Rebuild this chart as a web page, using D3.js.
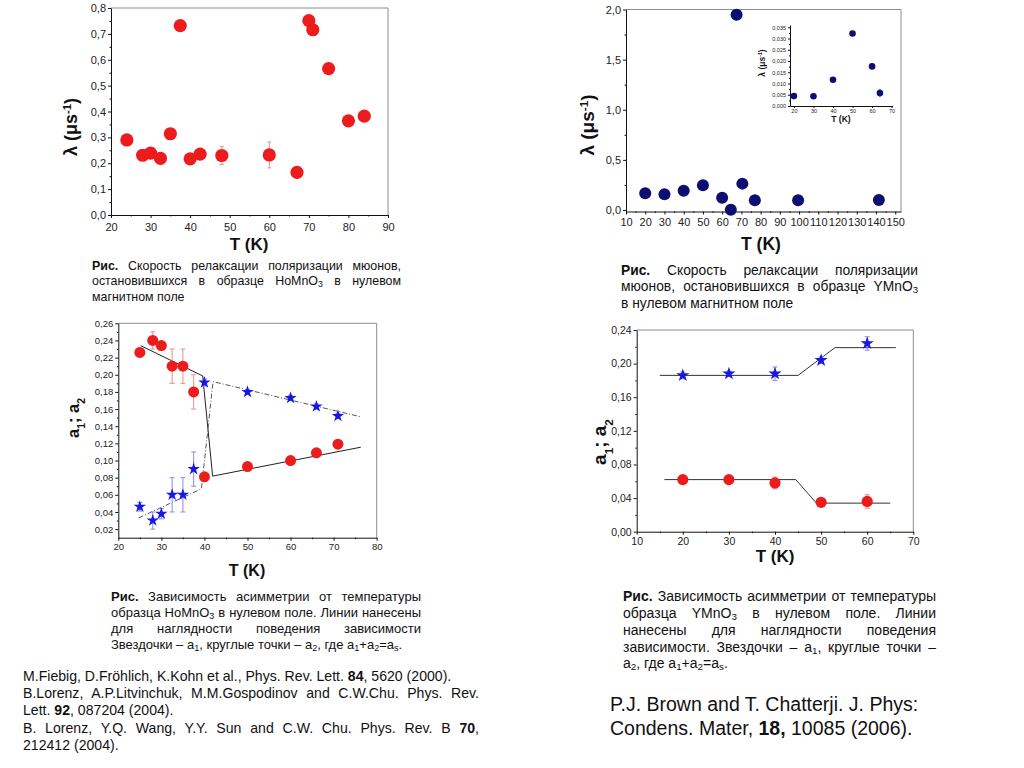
<!DOCTYPE html>
<html><head><meta charset="utf-8">
<script src="https://cdn.jsdelivr.net/npm/d3@7"></script>
<style>
body{margin:0;background:#fff;width:1024px;height:768px;overflow:hidden;position:relative;font-family:"Liberation Sans",Arial,sans-serif;}
svg{position:absolute;left:0;top:0}
.ln{position:absolute;color:#111;white-space:nowrap;}
sub{font-size:70%;vertical-align:-0.25em;line-height:0}
</style></head><body>
<svg id="chart" width="1024" height="768"></svg>
<script>
// ---------------- DATA ----------------
// HoMnO3 relaxation rate (top-left)
const hoT        = [24, 28, 30, 32.5, 35, 37.5, 40, 42.5, 48, 60, 67, 70, 71, 75, 80, 84];
const hoLambda   = [0.29, 0.231, 0.239, 0.219, 0.314, 0.732, 0.217, 0.235, 0.230, 0.232, 0.165, 0.751, 0.716, 0.566, 0.364, 0.382];
const hoLambdaErr= [0, 0, 0, 0, 0, 0, 0, 0, 0.035, 0.05, 0, 0, 0, 0, 0, 0];
const hoXTicks = [20, 30, 40, 50, 60, 70, 80, 90];
const hoYTicks = [0, 0.1, 0.2, 0.3, 0.4, 0.5, 0.6, 0.7, 0.8];

// YMnO3 relaxation rate (top-right)
const ymT      = [20, 30, 40, 50, 60, 64.5, 67.5, 70.5, 77, 99.5, 141.5];
const ymLambda = [0.167, 0.157, 0.193, 0.247, 0.123, 0.003, 1.947, 0.263, 0.097, 0.097, 0.10];
const ymXTicks = [10, 20, 30, 40, 50, 60, 70, 80, 90, 100, 110, 120, 130, 140, 150];
const ymYTicks = [0, 0.5, 1.0, 1.5, 2.0];

// YMnO3 inset
const insT      = [20, 30, 40, 50, 60, 64];
const insLambda = [0.0044, 0.0043, 0.0117, 0.0322, 0.0176, 0.0058];
const insErr    = [0, 0, 0, 0, 0.001, 0.0016];
const insXTicks = [20, 30, 40, 50, 60, 70];
const insYTicks = [0, 0.005, 0.010, 0.015, 0.020, 0.025, 0.030, 0.035];

// HoMnO3 asymmetry (bottom-left)
const hoAT    = [25, 28, 30, 32.5, 35, 37.5, 40, 50, 60, 66, 71];
const hoA2    = [0.226, 0.240, 0.234, 0.210, 0.210, 0.180, 0.081, 0.093, 0.100, 0.109, 0.119];
const hoA2Err = [0.005, 0.01, 0.005, 0.02, 0.02, 0.02, 0.004, 0.003, 0.003, 0.003, 0.003];
const hoA1    = [0.046, 0.030, 0.038, 0.060, 0.060, 0.090, 0.191, 0.180, 0.173, 0.163, 0.152];
const hoA1Err = [0.005, 0.01, 0.006, 0.02, 0.02, 0.02, 0.004, 0.003, 0.003, 0.003, 0.003];
const hoA2LineT = [25.2, 39.6, 41.9, 76.3];
const hoA2LineV = [0.234, 0.1986, 0.0818, 0.1155];
const hoA1LineT = [24.7, 39.3, 42, 76.3];
const hoA1LineV = [0.033, 0.067, 0.192, 0.151];
const hoAXTicks = [20, 30, 40, 50, 60, 70, 80];
const hoAYTicks = [0.02, 0.04, 0.06, 0.08, 0.10, 0.12, 0.14, 0.16, 0.18, 0.20, 0.22, 0.24, 0.26];

// YMnO3 asymmetry (bottom-right)
const ymAT    = [20, 30, 40, 50, 60];
const ymA1    = [0.186, 0.188, 0.188, 0.204, 0.224];
const ymA1Err = [0.004, 0.003, 0.008, 0.004, 0.008];
const ymA2    = [0.062, 0.062, 0.058, 0.035, 0.036];
const ymA2Err = [0.003, 0.003, 0.007, 0.003, 0.008];
const ymA1LineT = [15, 45, 53, 66.2];
const ymA1LineV = [0.186, 0.186, 0.219, 0.219];
const ymA2LineT = [16, 44.5, 49, 65];
const ymA2LineV = [0.062, 0.062, 0.034, 0.034];
const ymAXTicks = [10, 20, 30, 40, 50, 60, 70];
const ymAYTicks = [0, 0.04, 0.08, 0.12, 0.16, 0.20, 0.24];

// ---------------- DRAWING ----------------
const FONT = '"Liberation Sans", Arial, sans-serif';
const RED = '#ec1c1c', NAVY = '#0d0d72', BLUE = '#1818e0';
const svg = d3.select('#chart');
svg.append('rect').attr('width',1024).attr('height',768).attr('fill','#fff');
const comma = p => d => d3.format(`.${p}f`)(d).replace('.', ',');
const mid = a => a.slice(1).map((v,i)=>(v+a[i])/2);

function axes(g, x, y, o) {
  const [xa, xb] = x.range(); const [yb, ya] = y.range();
  if (o.frame !== false)
    g.append('path').attr('d',`M${xa},${ya}H${xb}V${yb}`).attr('fill','none').attr('stroke','#8c8c8c').attr('stroke-width',1);
  const gx = g.append('g').attr('transform',`translate(0,${yb})`)
    .call(d3.axisBottom(x).tickValues(o.xMajor).tickFormat(o.xFmt).tickSize(o.ts).tickSizeOuter(0).tickPadding(o.xPad));
  const gy = g.append('g').attr('transform',`translate(${xa},0)`)
    .call(d3.axisLeft(y).tickValues(o.yMajor).tickFormat(o.yFmt).tickSize(o.ts).tickSizeOuter(0).tickPadding(o.yPad));
  [gx, gy].forEach(a => a.selectAll('text').attr('font-family',FONT).attr('font-size',o.fs).attr('fill','#222'));
  [gx, gy].forEach(a => a.selectAll('line,path').attr('stroke','#111'));
  g.append('g').attr('transform',`translate(0,${yb})`)
    .call(d3.axisBottom(x).tickValues(mid(o.xMajor)).tickFormat('').tickSize(o.ts/2).tickSizeOuter(0))
    .call(s=>{s.select('.domain').remove(); s.selectAll('line').attr('stroke','#111');});
  g.append('g').attr('transform',`translate(${xa},0)`)
    .call(d3.axisLeft(y).tickValues(mid(o.yMajor)).tickFormat('').tickSize(o.ts/2).tickSizeOuter(0))
    .call(s=>{s.select('.domain').remove(); s.selectAll('line').attr('stroke','#111');});
}
function errBars(g, x, y, T, V, E, color, cap) {
  const d = T.map((t,i)=>({t, v:V[i], e:E[i]})).filter(d=>d.e>0);
  const eg = g.append('g').attr('stroke',color).attr('stroke-width',1);
  eg.selectAll('.eb').data(d).join('path')
    .attr('d', d => `M${x(d.t)},${y(d.v-d.e)}V${y(d.v+d.e)}M${x(d.t)-cap},${y(d.v-d.e)}h${2*cap}M${x(d.t)-cap},${y(d.v+d.e)}h${2*cap}`);
}
function circles(g, x, y, T, V, r, color) {
  g.append('g').selectAll('circle').data(T.map((t,i)=>({t, v:V[i]}))).join('circle')
    .attr('cx', d=>x(d.t)).attr('cy', d=>y(d.v)).attr('r', r).attr('fill', color);
}
function stars(g, x, y, T, V, size, color) {
  const sym = d3.symbol(d3.symbolStar, size);
  g.append('g').selectAll('path').data(T.map((t,i)=>({t, v:V[i]}))).join('path')
    .attr('d', sym).attr('transform', d=>`translate(${x(d.t)},${y(d.v)})`).attr('fill', color);
}
function polyline(g, x, y, T, V, stroke, dash) {
  const line = d3.line().x(d=>x(d[0])).y(d=>y(d[1]));
  g.append('path').datum(T.map((t,i)=>[t, V[i]])).attr('d', line).attr('fill','none')
    .attr('stroke', stroke).attr('stroke-width', 1).attr('stroke-dasharray', dash || null);
}
function lambdaLabel(g, cx, cy, size) {
  const t = g.append('text').attr('transform',`translate(${cx},${cy}) rotate(-90)`).attr('text-anchor','middle')
    .attr('font-family',FONT).attr('font-weight','bold').attr('font-size',size).attr('fill','#111');
  t.append('tspan').text('λ  (μs');
  t.append('tspan').attr('baseline-shift','super').attr('font-size',size*0.62).text('-1');
  t.append('tspan').text(')');
}
function aLabel(g, cx, cy, size) {
  const t = g.append('text').attr('transform',`translate(${cx},${cy}) rotate(-90)`).attr('text-anchor','middle')
    .attr('font-family',FONT).attr('font-weight','bold').attr('font-size',size).attr('fill','#111');
  t.append('tspan').text('a');
  t.append('tspan').attr('baseline-shift','sub').attr('font-size',size*0.62).text('1');
  t.append('tspan').text('; a');
  t.append('tspan').attr('baseline-shift','sub').attr('font-size',size*0.62).text('2');
}
function tLabel(g, cx, by, size) {
  g.append('text').attr('x',cx).attr('y',by).attr('text-anchor','middle').attr('font-family',FONT)
    .attr('font-weight','bold').attr('font-size',size).attr('fill','#111').text('T (K)');
}

// ---- Chart 1: HoMnO3 lambda ----
{
  const g = svg.append('g');
  const x = d3.scaleLinear().domain([20, 90]).range([111, 388]);
  const y = d3.scaleLinear().domain([0, 0.8]).range([215, 8]);
  axes(g, x, y, {xMajor:hoXTicks, yMajor:hoYTicks, xFmt:d3.format('d'), yFmt:comma(1), ts:3, xPad:5, yPad:2, fs:11});
  errBars(g, x, y, hoT, hoLambda, hoLambdaErr, '#f08a8a', 2);
  circles(g, x, y, hoT, hoLambda, 6.6, RED);
  lambdaLabel(g, 77, 127, 18);
  tLabel(g, 249, 250, 17);
}
// ---- Chart 2: YMnO3 lambda ----
{
  const g = svg.append('g');
  const x = d3.scaleLinear().domain([10, 153]).range([626, 901]);
  const y = d3.scaleLinear().domain([-0.015, 2.0]).range([211.5, 9.5]);
  axes(g, x, y, {xMajor:ymXTicks, yMajor:ymYTicks, xFmt:d3.format('d'), yFmt:comma(1), ts:3, xPad:4, yPad:2, fs:11});
  circles(g, x, y, ymT, ymLambda, 6, NAVY);
  lambdaLabel(g, 594, 125, 19);
  tLabel(g, 761, 250, 17.5);
  // inset
  const xi = d3.scaleLinear().domain([18, 70.5]).range([790, 892.6]);
  const yi = d3.scaleLinear().domain([0, 0.036]).range([106, 25]);
  axes(g, xi, yi, {xMajor:insXTicks, yMajor:insYTicks, xFmt:d3.format('d'), yFmt:comma(3), ts:2, xPad:1, yPad:2, fs:5.5, frame:false});
  errBars(g, xi, yi, insT, insLambda, insErr, '#7a7ad8', 1);
  circles(g, xi, yi, insT, insLambda, 3.3, NAVY);
  lambdaLabel(g, 765, 63, 8.5);
  tLabel(g, 841, 122, 8.5);
}
// ---- Chart 3: HoMnO3 asymmetry ----
{
  const g = svg.append('g');
  const x = d3.scaleLinear().domain([20, 80]).range([118.3, 376.7]);
  const y = d3.scaleLinear().domain([0.01, 0.26]).range([537.7, 323.3]);
  axes(g, x, y, {xMajor:hoAXTicks, yMajor:hoAYTicks, xFmt:d3.format('d'), yFmt:comma(2), ts:3, xPad:3, yPad:2, fs:9.5});
  polyline(g, x, y, hoA2LineT, hoA2LineV, '#222');
  polyline(g, x, y, hoA1LineT, hoA1LineV, '#555', '5,2,1,2');
  errBars(g, x, y, hoAT, hoA2, hoA2Err, '#f08a8a', 2.5);
  errBars(g, x, y, hoAT, hoA1, hoA1Err, '#8a8ae8', 2.5);
  circles(g, x, y, hoAT, hoA2, 5.5, RED);
  stars(g, x, y, hoAT, hoA1, 48, BLUE);
  aLabel(g, 79, 418, 16.5);
  tLabel(g, 247, 576, 16);
}
// ---- Chart 4: YMnO3 asymmetry ----
{
  const g = svg.append('g');
  const x = d3.scaleLinear().domain([10, 70]).range([636.7, 913.3]);
  const y = d3.scaleLinear().domain([0, 0.24]).range([531.7, 330]);
  axes(g, x, y, {xMajor:ymAXTicks, yMajor:ymAYTicks, xFmt:d3.format('d'), yFmt:comma(2), ts:3, xPad:3, yPad:2, fs:10.5});
  polyline(g, x, y, ymA1LineT, ymA1LineV, '#333');
  polyline(g, x, y, ymA2LineT, ymA2LineV, '#333');
  errBars(g, x, y, ymAT, ymA1, ymA1Err, '#8a8ae8', 2.5);
  errBars(g, x, y, ymAT, ymA2, ymA2Err, '#f08a8a', 2.5);
  circles(g, x, y, ymAT, ymA2, 5.6, RED);
  stars(g, x, y, ymAT, ymA1, 55, BLUE);
  aLabel(g, 606, 442, 19);
  tLabel(g, 775, 562, 17);
}

// ---------------- TEXT BLOCKS ----------------
// each line: [html, justify]; justified lines get word-spacing so they fill the width
function block(lines, left, width, baseline, lh, fs) {
  lines.forEach((ln, i) => {
    const div = d3.select('body').append('div').attr('class', 'ln')
      .style('left', left+'px').style('font-size', fs+'px').style('line-height', lh+'px')
      .html(ln[0]);
    let f = fs;
    let w = div.node().getBoundingClientRect().width;
    if (w > width) { f = fs * width / w * 0.985; div.style('font-size', f+'px'); w = div.node().getBoundingClientRect().width; }
    if (ln[1]) {
      const n = (div.node().textContent.match(/ /g) || []).length;
      if (n > 0) div.style('word-spacing', ((width - w) / n) + 'px');
    }
    const off = (lh - 1.117*f)/2 + 0.905*f;
    div.style('top', (baseline + i*lh - off)+'px');
  });
}
block([
  ['<b>Рис.</b> Скорость релаксации поляризации мюонов,', 1],
  ['остановившихся в образце HoMnO<sub>3</sub> в нулевом', 1],
  ['магнитном поле', 0]
], 92, 309, 271, 15.3, 12.4);
block([
  ['<b>Рис.</b> Скорость релаксации поляризации', 1],
  ['мюонов, остановившихся в образце YMnO<sub>3</sub>', 1],
  ['в нулевом магнитном поле', 0]
], 621, 297, 275.7, 16.4, 13.8);
block([
  ['<b>Рис.</b> Зависимость асимметрии от температуры', 1],
  ['образца HoMnO<sub>3</sub> в нулевом поле. Линии нанесены', 1],
  ['для наглядности поведения зависимости', 1],
  ['Звездочки – a<sub>1</sub>, круглые точки – a<sub>2</sub>, где a<sub>1</sub>+a<sub>2</sub>=a<sub>s</sub>.', 0]
], 111, 310, 601.7, 15.9, 13);
block([
  ['<b>Рис.</b> Зависимость асимметрии от температуры', 1],
  ['образца YMnO<sub>3</sub> в нулевом поле. Линии', 1],
  ['нанесены для наглядности поведения', 1],
  ['зависимости. Звездочки – a<sub>1</sub>, круглые точки –', 1],
  ['a<sub>2</sub>, где a<sub>1</sub>+a<sub>2</sub>=a<sub>s</sub>.', 0]
], 623, 313, 601.7, 16.7, 14);
block([
  ['M.Fiebig, D.Fröhlich, K.Kohn et al., Phys. Rev. Lett. <b>84</b>, 5620 (2000).', 0],
  ['B.Lorenz, A.P.Litvinchuk, M.M.Gospodinov and C.W.Chu. Phys. Rev.', 1],
  ['Lett. <b>92</b>, 087204 (2004).', 0],
  ['B. Lorenz, Y.Q. Wang, Y.Y. Sun and C.W. Chu. Phys. Rev. B <b>70</b>,', 1],
  ['212412 (2004).', 0]
], 23, 456, 681.7, 17.1, 14.1);
block([
  ['P.J. Brown and T. Chatterji. J. Phys:', 0],
  ['Condens. Mater, <b>18,</b> 10085 (2006).', 0]
], 610, 330, 711, 24, 19.5);
</script></body></html>
